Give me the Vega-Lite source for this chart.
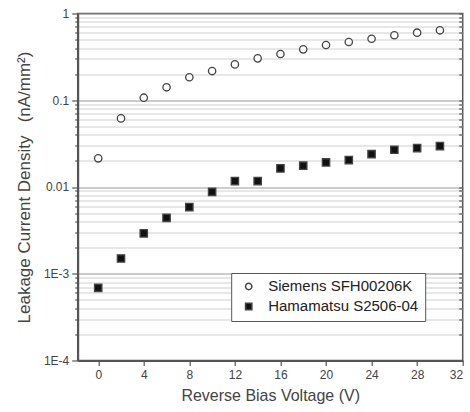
{
  "$schema": "https://vega.github.io/schema/vega-lite/v6.json",
  "width": 385,
  "height": 347,
  "autosize": "none",
  "padding": {"left": 77.7, "top": 13.5, "right": 7.3, "bottom": 51.7},
  "background": "white",
  "config": {
    "font": "Liberation Sans",
    "view": {"stroke": "#555", "strokeWidth": 1.5},
    "axis": {"labelColor": "#444", "titleColor": "#444", "titleFontWeight": "normal", "domainColor": "#555", "domainWidth": 2, "tickColor": "#555", "tickWidth": 1.2}
  },
  "data": {"values": [
    {"V": 0, "J": 0.0214, "d": "Siemens SFH00206K"},
    {"V": 2, "J": 0.0618, "d": "Siemens SFH00206K"},
    {"V": 4, "J": 0.107, "d": "Siemens SFH00206K"},
    {"V": 6, "J": 0.141, "d": "Siemens SFH00206K"},
    {"V": 8, "J": 0.184, "d": "Siemens SFH00206K"},
    {"V": 10, "J": 0.217, "d": "Siemens SFH00206K"},
    {"V": 12, "J": 0.259, "d": "Siemens SFH00206K"},
    {"V": 14, "J": 0.304, "d": "Siemens SFH00206K"},
    {"V": 16, "J": 0.341, "d": "Siemens SFH00206K"},
    {"V": 18, "J": 0.386, "d": "Siemens SFH00206K"},
    {"V": 20, "J": 0.433, "d": "Siemens SFH00206K"},
    {"V": 22, "J": 0.469, "d": "Siemens SFH00206K"},
    {"V": 24, "J": 0.512, "d": "Siemens SFH00206K"},
    {"V": 26, "J": 0.561, "d": "Siemens SFH00206K"},
    {"V": 28, "J": 0.601, "d": "Siemens SFH00206K"},
    {"V": 30, "J": 0.64, "d": "Siemens SFH00206K"},
    {"V": 0, "J": 0.000688, "d": "Hamamatsu S2506-04"},
    {"V": 2, "J": 0.0015, "d": "Hamamatsu S2506-04"},
    {"V": 4, "J": 0.00292, "d": "Hamamatsu S2506-04"},
    {"V": 6, "J": 0.00441, "d": "Hamamatsu S2506-04"},
    {"V": 8, "J": 0.00586, "d": "Hamamatsu S2506-04"},
    {"V": 10, "J": 0.0088, "d": "Hamamatsu S2506-04"},
    {"V": 12, "J": 0.0117, "d": "Hamamatsu S2506-04"},
    {"V": 14, "J": 0.0117, "d": "Hamamatsu S2506-04"},
    {"V": 16, "J": 0.0164, "d": "Hamamatsu S2506-04"},
    {"V": 18, "J": 0.0176, "d": "Hamamatsu S2506-04"},
    {"V": 20, "J": 0.0192, "d": "Hamamatsu S2506-04"},
    {"V": 22, "J": 0.0204, "d": "Hamamatsu S2506-04"},
    {"V": 24, "J": 0.0239, "d": "Hamamatsu S2506-04"},
    {"V": 26, "J": 0.0269, "d": "Hamamatsu S2506-04"},
    {"V": 28, "J": 0.0281, "d": "Hamamatsu S2506-04"},
    {"V": 30, "J": 0.0296, "d": "Hamamatsu S2506-04"}
  ]},
  "layer": [
    {
      "mark": {"type": "point", "filled": true, "size": 54, "stroke": "#444", "strokeWidth": 1.3, "opacity": 1},
      "encoding": {
        "x": {"field": "V", "type": "quantitative", "scale": {"domain": [-1.8, 32], "nice": false, "zero": false},
          "axis": {"title": "Reverse Bias Voltage (V)", "titleFontSize": 16, "titlePadding": 7, "labelFontSize": 12, "labelPadding": 4,
            "values": [0,2,4,6,8,10,12,14,16,18,20,22,24,26,28,30,32], "grid": false, "tickSize": 5,
            "labelExpr": "datum.value % 4 == 0 ? datum.label : ''"}},
        "y": {"field": "J", "type": "quantitative", "scale": {"type": "log", "domain": [0.0001, 1], "nice": false},
          "axis": {"title": "Leakage Current Density \u2002(nA/mm²)", "titleFontSize": 17, "titlePadding": 10, "labelFontSize": 12, "labelPadding": 3,
            "values": [0.0001,0.0002,0.0003,0.0004,0.0005,0.0006,0.0007,0.0008,0.0009,0.001,0.002,0.003,0.004,0.005,0.006,0.007,0.008,0.009,0.01,0.02,0.03,0.04,0.05,0.06,0.07,0.08,0.09,0.1,0.2,0.3,0.4,0.5,0.6,0.7,0.8,0.9,1],
            "labelExpr": "abs(datum.value-1)<1e-9 ? '1' : abs(datum.value-0.1)<1e-9 ? '0.1' : abs(datum.value-0.01)<1e-9 ? '0.01' : abs(datum.value-0.001)<1e-9 ? '1E-3' : abs(datum.value-0.0001)<1e-9 ? '1E-4' : ''",
            "grid": true,
            "gridColor": {"condition": {"test": "abs(log(datum.value)/LN10 - round(log(datum.value)/LN10)) < 0.001", "value": "#999"}, "value": "#d0d0d0"},
            "gridWidth": 1.2,
            "tickSize": {"condition": {"test": "abs(log(datum.value)/LN10 - round(log(datum.value)/LN10)) < 0.001", "value": 6}, "value": 3}}},
        "shape": {"field": "d", "type": "nominal", "sort": ["Siemens SFH00206K", "Hamamatsu S2506-04"],
          "scale": {"domain": ["Siemens SFH00206K", "Hamamatsu S2506-04"], "range": ["circle", "square"]},
          "legend": {"title": null, "orient": "none", "legendX": 153.5, "legendY": 259.5, "strokeColor": "#555", "fillColor": "white",
            "labelFontSize": 15, "labelColor": "#222", "symbolSize": 40,
            "padding": 6, "rowPadding": 4, "labelOffset": 12, "symbolOffset": 4,
            "encode": {"symbols": {"update": {"stroke": {"value": "#444"}, "strokeWidth": {"value": 1.3}}}}}},
        "fill": {"field": "d", "type": "nominal",
          "scale": {"domain": ["Siemens SFH00206K", "Hamamatsu S2506-04"], "range": ["white", "#111"]}}
      }
    },
    {
      "mark": {"type": "point", "opacity": 0},
      "encoding": {
        "x": {"field": "V", "type": "quantitative"},
        "y": {"field": "J", "type": "quantitative", "scale": {"type": "log", "domain": [0.0001, 1], "nice": false},
          "axis": {"orient": "right", "labels": false, "title": null, "domain": false, "grid": false, "offset": -4, "tickSize": 4,
            "values": [0.0001,0.0002,0.0003,0.0004,0.0005,0.0006,0.0007,0.0008,0.0009,0.001,0.002,0.003,0.004,0.005,0.006,0.007,0.008,0.009,0.01,0.02,0.03,0.04,0.05,0.06,0.07,0.08,0.09,0.1,0.2,0.3,0.4,0.5,0.6,0.7,0.8,0.9,1],
            "tickColor": "#555", "tickWidth": 1.2, "tickOpacity": 1}}
      }
    }
  ],
  "resolve": {"scale": {"y": "independent"}}
}
